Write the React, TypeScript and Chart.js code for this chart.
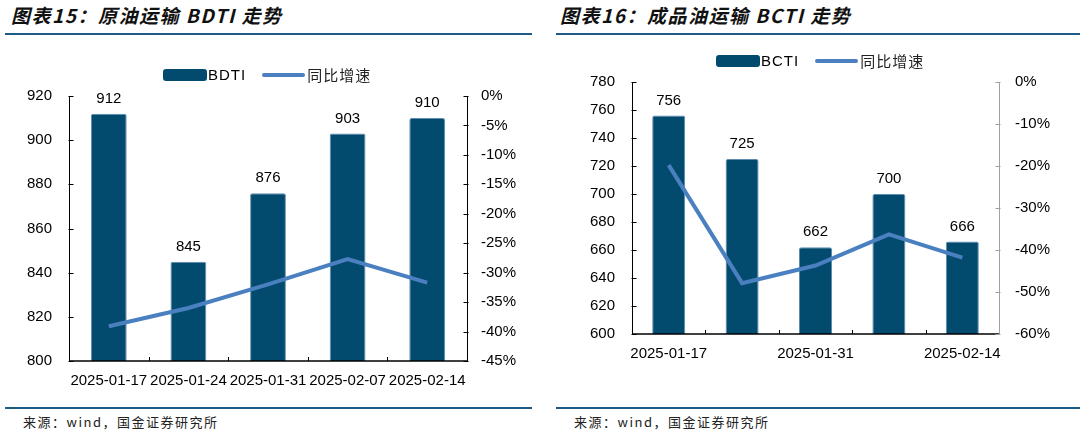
import React, { useEffect, useRef } from "react";
import { Chart, registerables } from "chart.js";

Chart.register(...registerables);

// ---------------- data ----------------
const dates1 = ["2025-01-17", "2025-01-24", "2025-01-31", "2025-02-07", "2025-02-14"];
const bdtiValues = [912, 845, 876, 903, 910];
const bdtiYoY = [-39.1, -36.0, -32.0, -27.7, -31.7];

const dates2 = ["2025-01-17", "2025-01-24", "2025-01-31", "2025-02-07", "2025-02-14"];
const bctiValues = [756, 725, 662, 700, 666];
const bctiYoY = [-19.8, -47.9, -43.7, -36.3, -41.8];

const leftAxis1 = { min: 800, max: 920, step: 20 };
const rightAxis1 = { min: -45, max: 0, step: 5 };
const leftAxis2 = { min: 600, max: 780, step: 20 };
const rightAxis2 = { min: -60, max: 0, step: 10 };

const BAR_COLOR = "#034a6f";
const BAR_BORDER = "#5d8db0";
const LINE_COLOR = "#4a80c0";
const FONT = "'Liberation Sans', Arial, sans-serif";
const CJK = "'Noto Sans CJK SC', sans-serif";

// ---------------- plugins ----------------
const inwardAxes = {
  id: "inwardAxes",
  afterDatasetsDraw(chart: any, _args: any, opts: any) {
    const { ctx, chartArea: a, scales } = chart;
    ctx.save();
    const crisp = (v: number) => Math.round(v) + 0.5;
    // x axis
    ctx.strokeStyle = "#000";
    ctx.lineWidth = 1.5;
    ctx.beginPath();
    ctx.moveTo(a.left, a.bottom);
    ctx.lineTo(a.right, a.bottom);
    ctx.stroke();
    const xs = scales.x;
    const n = xs.getLabels().length;
    const half = (xs.getPixelForValue(1) - xs.getPixelForValue(0)) / 2;
    ctx.lineWidth = 1;
    for (let i = 0; i <= n; i++) {
      const bx = crisp(xs.getPixelForValue(i) - half);
      ctx.beginPath();
      ctx.moveTo(bx, a.bottom);
      ctx.lineTo(bx, a.bottom - 4);
      ctx.stroke();
    }
    // left y axis
    ctx.strokeStyle = opts.leftColor || "#000";
    const lx = crisp(a.left);
    ctx.beginPath();
    ctx.moveTo(lx, a.top);
    ctx.lineTo(lx, a.bottom);
    ctx.stroke();
    scales.y.ticks.forEach((t: any) => {
      const py = crisp(scales.y.getPixelForValue(t.value));
      ctx.beginPath();
      ctx.moveTo(lx - 1, py);
      ctx.lineTo(lx + 4, py);
      ctx.stroke();
    });
    // right y axis
    ctx.strokeStyle = opts.rightColor || "#000";
    const rx = crisp(a.right);
    ctx.beginPath();
    ctx.moveTo(rx, a.top);
    ctx.lineTo(rx, a.bottom);
    ctx.stroke();
    scales.y1.ticks.forEach((t: any) => {
      const py = crisp(scales.y1.getPixelForValue(t.value));
      ctx.beginPath();
      ctx.moveTo(rx + 1, py);
      ctx.lineTo(rx - 4, py);
      ctx.stroke();
    });
    ctx.restore();
  },
};

const barLabels = {
  id: "barLabels",
  afterDatasetsDraw(chart: any) {
    const { ctx } = chart;
    chart.data.datasets.forEach((ds: any, di: number) => {
      if (ds.type !== "bar") return;
      const meta = chart.getDatasetMeta(di);
      ctx.save();
      ctx.font = `15px ${FONT}`;
      ctx.fillStyle = "#000";
      ctx.textAlign = "center";
      ctx.textBaseline = "middle";
      meta.data.forEach((el: any, i: number) => {
        ctx.fillText(String(ds.data[i]), el.x, el.y - 15);
      });
      ctx.restore();
    });
  },
};

// ---------------- chart panel ----------------
type PanelProps = {
  labels: string[];
  bars: number[];
  line: number[];
  barName: string;
  left: { min: number; max: number; step: number };
  right: { min: number; max: number; step: number };
  plot: { left: number; right: number; top: number; bottom: number };
  width: number;
  height: number;
  xPadding: number;
  yPadding: number;
  y1Padding: number;
  rightColor: string;
  sparseX: boolean;
};

function ChartPanel(p: PanelProps) {
  const ref = useRef<HTMLCanvasElement | null>(null);
  useEffect(() => {
    if (!ref.current) return;
    const chart = new Chart(ref.current, {
      type: "bar",
      data: {
        labels: p.labels,
        datasets: [
          {
            type: "bar",
            label: p.barName,
            data: p.bars,
            backgroundColor: BAR_COLOR,
            borderColor: BAR_BORDER,
            borderWidth: 1,
            borderRadius: 2,
            borderSkipped: "bottom",
            barPercentage: 0.45,
            categoryPercentage: 1,
            yAxisID: "y",
            order: 2,
          } as any,
          {
            type: "line",
            label: "同比增速",
            data: p.line,
            borderColor: LINE_COLOR,
            backgroundColor: LINE_COLOR,
            borderWidth: 4,
            pointRadius: 0,
            tension: 0,
            yAxisID: "y1",
            order: 1,
          } as any,
        ],
      },
      options: {
        animation: false,
        responsive: false,
        devicePixelRatio: 1,
        layout: { padding: { top: p.plot.top, left: 0, right: 0, bottom: 0 } },
        plugins: {
          legend: { display: false },
          tooltip: { enabled: false },
          inwardAxes: { leftColor: "#000", rightColor: p.rightColor },
        } as any,
        scales: {
          x: {
            offset: true,
            grid: { display: false, drawTicks: false, offset: true },
            border: { display: false },
            ticks: {
              autoSkip: false,
              maxRotation: 0,
              padding: p.xPadding,
              color: "#000",
              font: { family: FONT, size: 15 },
              callback: function (this: any, _v: any, i: number) {
                if (p.sparseX && i % 2 === 1) return "";
                return p.labels[i];
              },
            },
            afterFit: (s: any) => {
              s.height = p.height - p.plot.bottom;
            },
          },
          y: {
            position: "left",
            min: p.left.min,
            max: p.left.max,
            grid: { display: false, drawTicks: false },
            border: { display: false },
            ticks: {
              stepSize: p.left.step,
              padding: p.yPadding,
              color: "#000",
              font: { family: FONT, size: 15 },
            },
            afterFit: (s: any) => {
              s.width = p.plot.left;
            },
          },
          y1: {
            position: "right",
            min: p.right.min,
            max: p.right.max,
            grid: { display: false, drawTicks: false },
            border: { display: false },
            ticks: {
              stepSize: p.right.step,
              padding: p.y1Padding,
              color: "#000",
              font: { family: FONT, size: 15 },
              callback: (v: any) => `${v}%`,
            },
            afterFit: (s: any) => {
              s.width = p.width - p.plot.right;
            },
          },
        },
      },
      plugins: [inwardAxes, barLabels],
    } as any);
    return () => chart.destroy();
  }, []);
  return (
    <canvas
      ref={ref}
      width={p.width}
      height={p.height}
      style={{ display: "block", width: p.width, height: p.height }}
    />
  );
}

function Legend({ x, y, barName }: { x: number; y: number; barName: string }) {
  // x = left of bar swatch, y = vertical centre
  return (
    <div style={{ position: "absolute", left: x, top: y - 10, height: 20, display: "flex", alignItems: "center" }}>
      <div style={{ width: 44, height: 12, background: BAR_COLOR, borderRadius: 3 }} />
      <span style={{ font: `15px ${FONT}`, color: "#000", marginLeft: 1, letterSpacing: 1, lineHeight: "20px" }}>
        {barName}
      </span>
      <div style={{ width: 43, height: 4, background: LINE_COLOR, borderRadius: 2, marginLeft: 16 }} />
      <span style={{ font: `15px ${CJK}`, color: "#222", marginLeft: 2, letterSpacing: 1, lineHeight: "20px" }}>
        同比增速
      </span>
    </div>
  );
}

const titleStyle: React.CSSProperties = {
  position: "absolute",
  top: 3,
  font: `italic bold 19px ${CJK}`,
  color: "#111",
  letterSpacing: 1.5,
  whiteSpace: "nowrap",
  lineHeight: "24px",
};
const ruleStyle: React.CSSProperties = { position: "absolute", height: 2, background: "#1d5a86" };
const sourceStyle: React.CSSProperties = {
  position: "absolute",
  top: 413,
  font: `13px ${CJK}`,
  color: "#222",
  whiteSpace: "nowrap",
  lineHeight: "18px",
  letterSpacing: 1.5,
};

export default function App() {
  return (
    <div style={{ position: "absolute", left: 0, top: 0, width: 1086, height: 436, background: "#fff", overflow: "hidden" }}>
      {/* left panel */}
      <div style={{ ...titleStyle, left: 11 }}>图表15：原油运输 BDTI 走势</div>
      <div style={{ ...ruleStyle, left: 5, width: 527, top: 33 }} />
      <div style={{ position: "absolute", left: 0, top: 40 }}>
        <ChartPanel
          labels={dates1}
          bars={bdtiValues}
          line={bdtiYoY}
          barName="BDTI"
          left={leftAxis1}
          right={rightAxis1}
          plot={{ left: 69, right: 467, top: 56, bottom: 321 }}
          width={543}
          height={360}
          xPadding={11}
          yPadding={17}
          y1Padding={14}
          rightColor="#000"
          sparseX={false}
        />
      </div>
      <Legend x={163} y={75} barName="BDTI" />
      <div style={{ ...ruleStyle, left: 5, width: 527, top: 407 }} />
      <div style={{ ...sourceStyle, left: 23 }}>来源：wind，国金证券研究所</div>

      {/* right panel */}
      <div style={{ ...titleStyle, left: 560 }}>图表16：成品油运输 BCTI 走势</div>
      <div style={{ ...ruleStyle, left: 556, width: 524, top: 33 }} />
      <div style={{ position: "absolute", left: 543, top: 40 }}>
        <ChartPanel
          labels={dates2}
          bars={bctiValues}
          line={bctiYoY}
          barName="BCTI"
          left={leftAxis2}
          right={rightAxis2}
          plot={{ left: 89, right: 456, top: 42, bottom: 294 }}
          width={543}
          height={360}
          xPadding={11}
          yPadding={17}
          y1Padding={16}
          rightColor="#a0a0a0"
          sparseX={true}
        />
      </div>
      <Legend x={716} y={61} barName="BCTI" />
      <div style={{ ...ruleStyle, left: 556, width: 524, top: 407 }} />
      <div style={{ ...sourceStyle, left: 574 }}>来源：wind，国金证券研究所</div>
    </div>
  );
}
